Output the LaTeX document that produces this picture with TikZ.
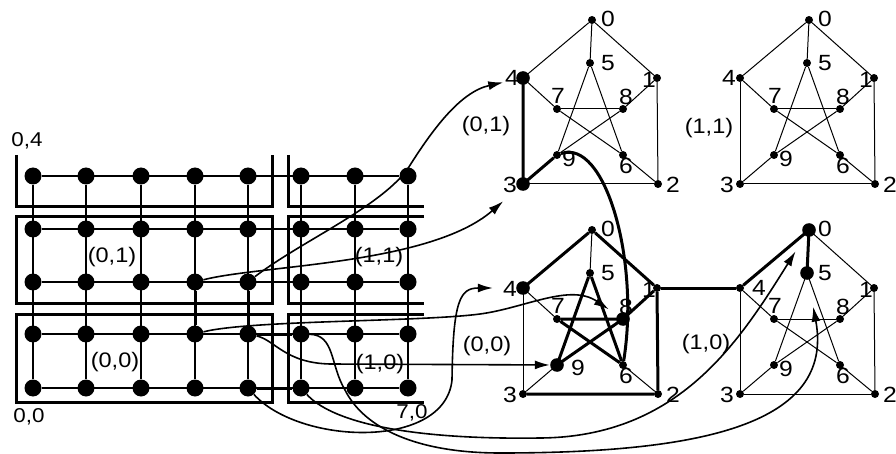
\documentclass[tikz,border=0pt]{standalone}
\usepackage{fontspec}
\setmainfont{Liberation Sans}[FakeStretch=1.12]
\usetikzlibrary{calc,arrows.meta}
\newcommand\petgraph[5]{%
  \begin{scope}[shift={(#2,#3)}]
    \foreach \i/\px/\py in {0/592/20,1/657/78,2/658/184,3/523/184,4/523/78,5/590/63,6/623/155,7/557/109,8/623/109,9/557/155}
      \node[vs] (#1\i) at (\px,\py) {};
  \end{scope}
  \foreach \u/\v in {0/1,1/2,2/3,3/4,4/0,0/5,1/8,2/6,3/9,4/7,5/9,5/6,7/8,7/6,8/9}
    \draw[pline] (#1\u) -- (#1\v);
  \foreach \i/\dx/\dy in {0/16/-1,1/-8/2,2/15/1,3/-13/1,4/#4,5/18/0,6/3/11,7/1/-13,8/3/-12,9/#5}
    \node[vlab] at ($(#1\i)+(\dx,\dy)$) {\i};
}
\begin{document}
\begin{tikzpicture}[x=1pt,y=-1pt,
  gdot/.style={circle,fill=black,inner sep=0pt,minimum size=17pt},
  vs/.style={circle,fill=black,inner sep=0pt,minimum size=8pt},
  gline/.style={line width=1.2pt},
  pline/.style={line width=1pt},
  thickline/.style={line width=3pt},
  frame/.style={line width=3pt},
  vlab/.style={font=\fontsize{22}{24}\selectfont,inner sep=0pt},
  rlab/.style={font=\fontsize{21}{24}\selectfont,inner sep=0pt},
  clab/.style={font=\fontsize{20}{22}\selectfont,inner sep=0pt},
  conn/.style={line width=1.6pt,-{Latex[length=15pt,width=9pt]}},
]
\useasboundingbox (0,0) rectangle (896,454);
\fill[white] (0,0) rectangle (896,454);
% grid nodes
\foreach \c/\x in {1/33,2/86,3/141,4/195,5/248,6/301,7/355,8/408}
  \foreach \r/\y in {1/176,2/229,3/282,4/334,5/388}
    \node[gdot] (g\c\r) at (\x,\y) {};
\foreach \r in {1,...,5} \draw[gline] (g1\r) -- (g8\r);
\foreach \c in {1,...,8} \draw[gline] (g\c1) -- (g\c5);
% frames
\draw[frame] (16,155) |- (272,207) -- (272,155);
\draw[frame] (288,155) |- (424,207);
\draw[frame] (16,217) rectangle (272,303);
\draw[frame] (424,217) -| (288,303) -- (424,303);
\draw[frame] (16,314) rectangle (272,402);
\draw[frame] (424,314) -| (288,402) -- (424,402);
% thick grid edges
\draw[thickline] (g43) -- (g44);
\draw[thickline] (g53) -- (g54) -- (g64);
\draw[thickline] (g55) -- (g65);
% grid labels
\node[clab] at (27,141) {0,4};
\node[clab] at (29,417) {0,0};
\node[clab] at (412,413) {7,0};
\node[rlab] at (112,257) {(0,1)};
\node[rlab] at (379,257) {(1,1)};
\node[rlab] at (115,362) {(0,0)};
\node[rlab] at (380,364) {(1,0)};
% Petersen graphs
\petgraph{a}{0}{0}{-11/0}{12/4}
\petgraph{b}{217}{0}{-11/0}{12/4}
\petgraph{c}{0}{210}{-13/1}{21/3}
\petgraph{d}{217}{210}{19/0}{12/4}
\node[rlab] at (486,126) {(0,1)};
\node[rlab] at (709,128) {(1,1)};
\node[rlab] at (487,346) {(0,0)};
\node[rlab] at (706,344) {(1,0)};
% thick graph edges
\draw[thickline] (a4) -- (a3) -- (a9);
\draw[thickline] (c4) -- (c0) -- (c1) -- (c2) -- (c3);
\draw[thickline] (c1) -- (c8);
\draw[thickline] (c8) -- (c7) -- (c6) -- (c5) -- (c9) -- (c8);
\draw[thickline] (c1) -- (d4);
\draw[thickline] (d4) -- (d0) -- (d5);
\draw[thickline] (a9) .. controls (605,138) and (640,260) .. (c6);
% big dots
\foreach \v in {a4,a3,c4,c8,c9,d0,d5} \fill (\v) circle (6.8);
% connectors
\draw[conn,shorten >=16pt] (g53) .. controls (300,242) and (377,209) .. (407,170) .. controls (432,130) and (460,92) .. (a4);
\draw[conn,shorten >=22pt] (g43) .. controls (260,265) and (430,265) .. (a3);
\draw[conn,shorten >=13pt] (g44) .. controls (250,320) and (420,322) .. (480,314) .. controls (525,308) and (570,283) .. (c8);
\draw[conn,shorten >=3pt] (g54) .. controls (275,340) and (285,363) .. (330,364) -- (c9);
\draw[conn,shorten >=26pt] (g55) .. controls (300,445) and (445,450) .. (452,380) .. controls (453,300) and (460,288) .. (c4);
\draw[conn,shorten >=21pt] (g65) .. controls (330,420) and (400,440) .. (540,438) .. controls (680,437) and (740,340) .. (d0);
\draw[conn,shorten >=30pt] (g64) .. controls (335,335) and (330,365) .. (345,390) .. controls (365,430) and (420,453) .. (500,453) .. controls (700,453) and (835,425) .. (d5);
\end{tikzpicture}
\end{document}
